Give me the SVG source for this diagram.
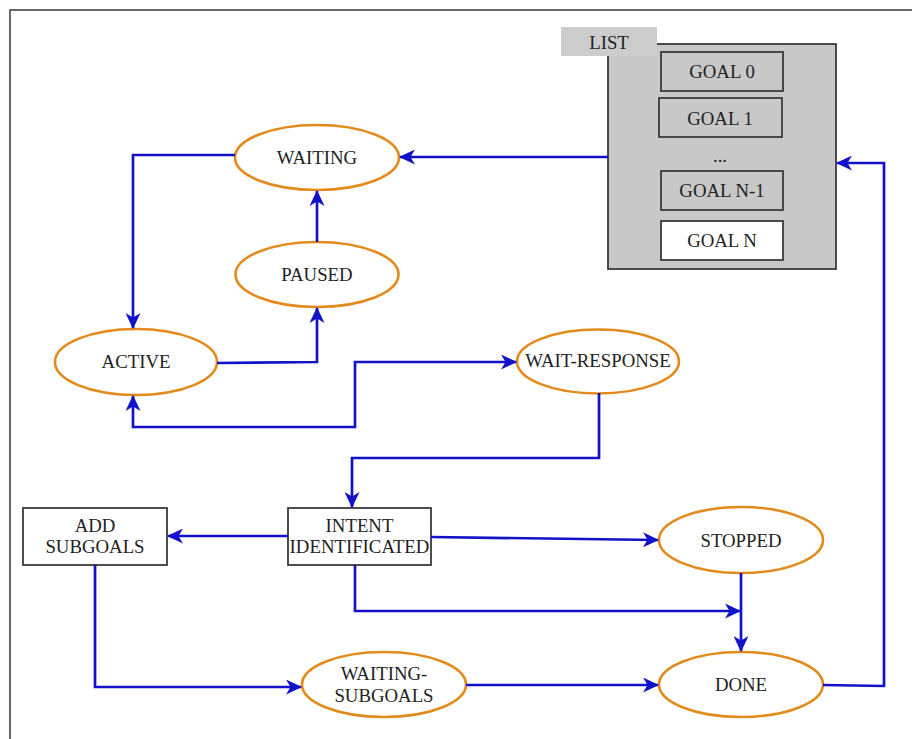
<svg xmlns="http://www.w3.org/2000/svg" width="912" height="739" viewBox="0 0 912 739">
<style>
text{font-family:"Liberation Serif","Times New Roman",serif;font-size:18.8px;fill:#222;text-anchor:middle}
.st{fill:#fff;stroke:#e38a1c;stroke-width:2.6}
.box{fill:#fff;stroke:#3a3a3a;stroke-width:1.8}
.goal{fill:#c8c8c8;stroke:#3a3a3a;stroke-width:1.8}
.e{fill:none;stroke:#1212c8;stroke-width:2.7;marker-end:url(#ah)}
</style>
<defs>
<marker id="ah" markerUnits="userSpaceOnUse" markerWidth="16" markerHeight="15" viewBox="0 0 16 15" refX="15" refY="7.5" orient="auto-start-reverse">
<path d="M0,0 L16,7.5 L0,15 L4.5,7.5 z" fill="#1212c8"/>
</marker>
</defs>
<rect x="10" y="10" width="920" height="740" fill="#fff" stroke="#444" stroke-width="1.6"/>
<g id="list">
<rect x="608" y="44" width="228" height="225" class="goal"/>
<rect x="561" y="27" width="96" height="29" fill="#cccccc"/>
<text x="609" y="49">LIST</text>
<rect x="661" y="52" width="122" height="39" class="goal"/>
<text x="722" y="78">GOAL 0</text>
<rect x="659" y="98" width="123" height="39" class="goal"/>
<text x="720" y="125">GOAL 1</text>
<text x="720" y="162">...</text>
<rect x="661" y="171" width="122" height="39" class="goal"/>
<text x="722" y="197">GOAL N-1</text>
<rect x="661" y="221" width="122" height="39" class="box"/>
<text x="722" y="247">GOAL N</text>
</g>
<g id="waiting"><ellipse cx="317" cy="157.5" rx="82" ry="32.5" class="st"/><text x="317" y="164">WAITING</text></g>
<g id="paused"><ellipse cx="317" cy="274.5" rx="81.5" ry="32.5" class="st"/><text x="317" y="281">PAUSED</text></g>
<g id="active"><ellipse cx="136" cy="362" rx="81" ry="33" class="st"/><text x="136" y="368">ACTIVE</text></g>
<g id="wait-response"><ellipse cx="598" cy="361.5" rx="81" ry="32" class="st"/><text x="598" y="367">WAIT-RESPONSE</text></g>
<g id="add-subgoals"><rect x="23" y="508" width="144" height="57" class="box"/><text x="95" y="532">ADD</text><text x="95" y="553">SUBGOALS</text></g>
<g id="intent"><rect x="288" y="508" width="143" height="57" class="box"/><text x="359.5" y="532">INTENT</text><text x="359.5" y="553">IDENTIFICATED</text></g>
<g id="stopped"><ellipse cx="741" cy="540" rx="82" ry="33" class="st"/><text x="741" y="547">STOPPED</text></g>
<g id="waiting-subgoals"><ellipse cx="384" cy="684.5" rx="82" ry="32.5" class="st"/><text x="384" y="680">WAITING-</text><text x="384" y="702">SUBGOALS</text></g>
<g id="done"><ellipse cx="741" cy="684.5" rx="82" ry="32.5" class="st"/><text x="741" y="691">DONE</text></g>
<g id="connectors">
<path class="e" d="M608,157 L400,157"/>
<path class="e" d="M235,155 L133,155 L133,328"/>
<path class="e" d="M317,242 L317,191"/>
<path class="e" d="M217,363 L317,362 L317,308"/>
<path class="e" style="marker-start:url(#ah)" d="M133,396 L133,427 L355,427 L355,362 L516,362"/>
<path class="e" d="M599,393 L599,458 L352,458 L352,507"/>
<path class="e" d="M288,536 L168,536"/>
<path class="e" d="M431,537 L658,540"/>
<path class="e" d="M355,565 L355,611 L740,611"/>
<path class="e" d="M741,573 L741,651"/>
<path class="e" d="M95,565 L95,687 L301,687"/>
<path class="e" d="M466,685 L658,685"/>
<path class="e" d="M823,685 L884,686 L884,163 L837,163"/>
</g>
</svg>
